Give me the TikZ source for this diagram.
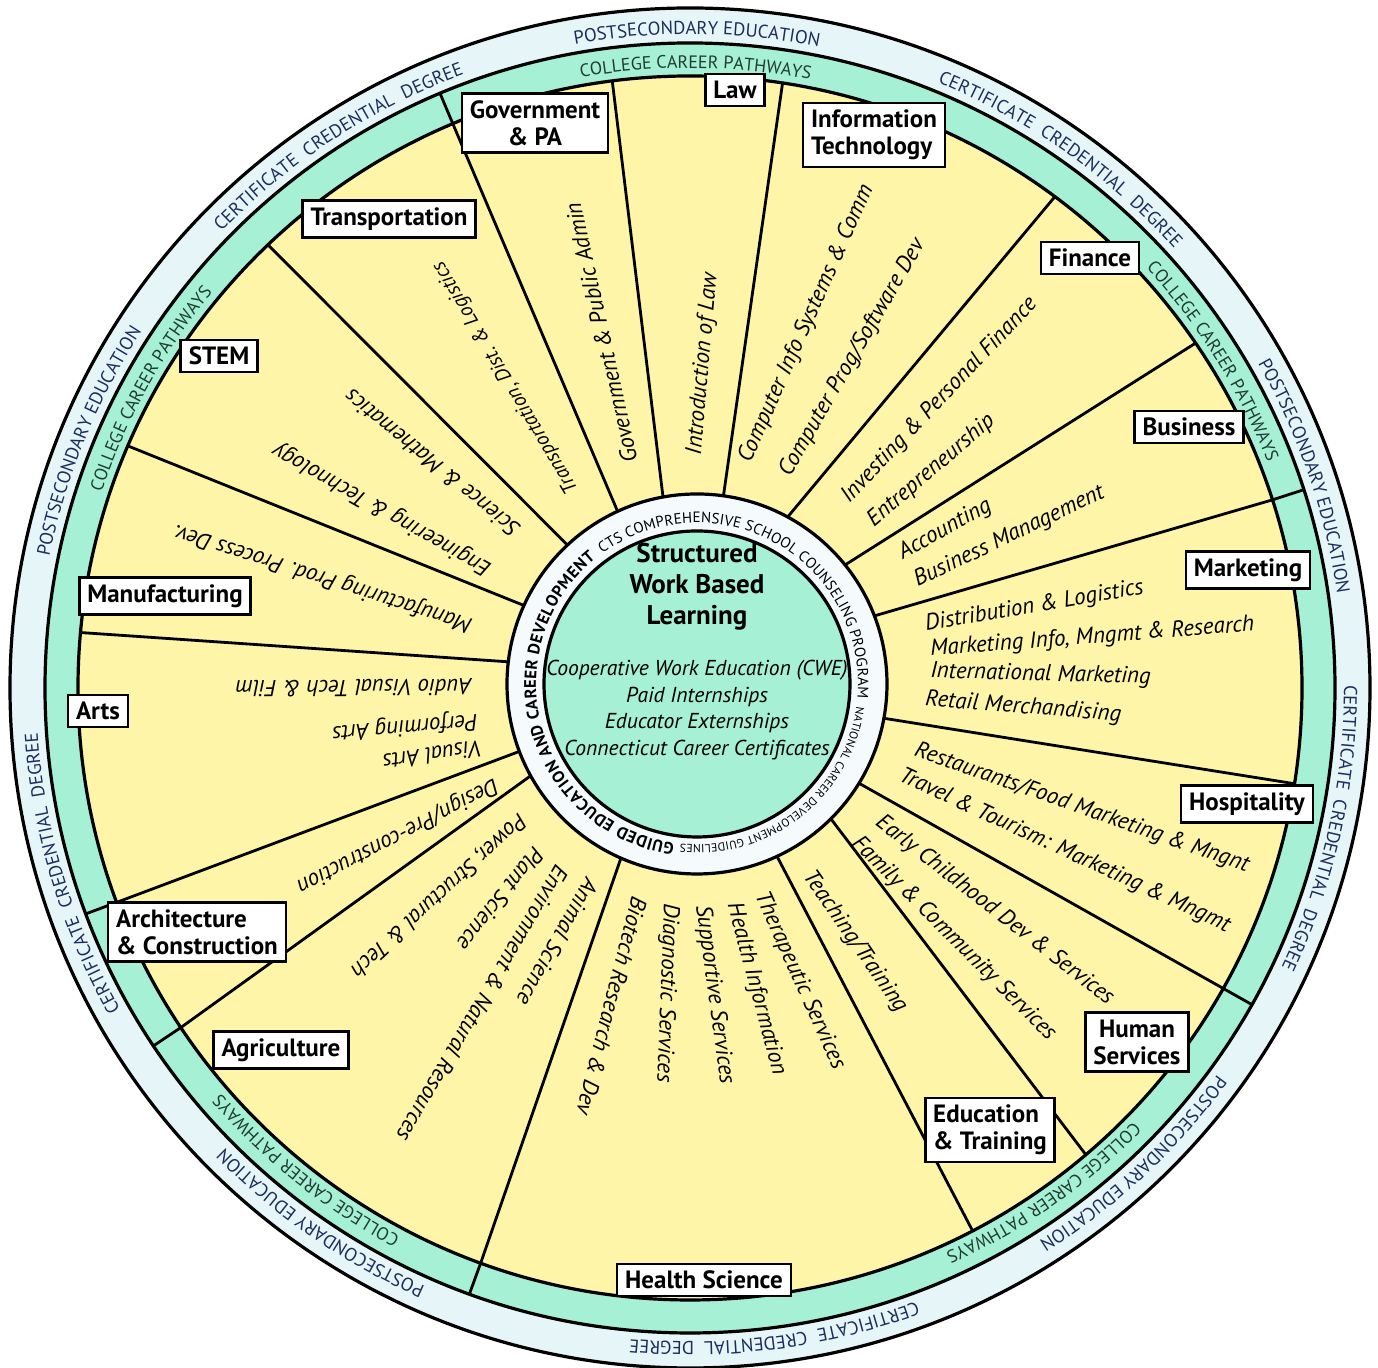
\documentclass[tikz,border=0pt]{standalone}
\usepackage{fontspec}
\setmainfont{PT Sans}
\usetikzlibrary{calc,decorations.text}

\definecolor{wheelyellow}{HTML}{FFF5A8}
\definecolor{wheelgreen}{HTML}{A6F0D6}
\definecolor{wheelpale}{HTML}{E6F6F8}
\definecolor{ringblue}{HTML}{1E2D5C}
\definecolor{ringgreen}{HTML}{1F3D30}

\newcommand{\outerfont}{\fontsize{9.3}{10}\selectfont\color{ringblue}}
\newcommand{\greenfont}{\fontsize{9}{10}\selectfont\color{ringgreen}}

% text on an arc: alignment, centre, start angle, end angle, radius, format, text
\newcommand{\ringtext}[7][center]{%
  \path[decorate, decoration={text along path, text align=#1, text={|#6|#7}}]
    ($(#2)+(#3:#5)$) arc[start angle=#3, end angle=#4, radius=#5];}

\begin{document}
\begin{tikzpicture}[x=0.5pt, y=0.5pt,
    tag/.style={draw, line width=1.3pt, fill=white, align=center, inner xsep=4pt, inner ysep=3.5pt,
      font=\bfseries\fontsize{12.5}{13.5}\selectfont},
    item/.style={anchor=west, inner sep=0pt, font=\itshape\fontsize{11.5}{13}\selectfont},
    divider/.style={line width=1.4pt},
    rimline/.style={line width=1.6pt}]

    \useasboundingbox (0,0) rectangle (1378,1368);
    \coordinate (rim) at (690,680);
    \coordinate (hub) at (697,684);

    \filldraw[rimline, fill=wheelpale] (rim) circle[radius=680];
    \filldraw[rimline, fill=wheelgreen] (rim) circle[radius=645];
    \filldraw[rimline, fill=wheelyellow] (rim) circle[radius=612];

    \foreach \i/\o in {133/133.6,114.7/112.8,100.3/97.3,82/81.3,61.5/53.4,38.8/34.3,21/17.9,-10.4/-9,
        -31.5/-29.4,-45.2/-49.7,-65.1/-62.5,-113.6/-110,-151.1/-146.3,-159.2/-159.5,173.3/174.8,155.6/156.7}{
        \draw[divider] ($(hub)+(\i:190)$) -- ($(rim)+(\o:612)$);
    }
    \foreach \o in {112.8,17.9,-29.4,-110,-146.3,-159.5}{
        \draw[divider] ($(rim)+(\o:612)$) -- ($(rim)+(\o:645)$);
    }

    \filldraw[rimline, fill=wheelpale!40!white] (hub) circle[radius=190];
    \filldraw[rimline, fill=wheelgreen] (hub) circle[radius=153];

    % outer ring
    \ringtext{rim}{129.4}{49.4}{654}{\outerfont}{POSTSECONDARY EDUCATION}
    \ringtext{rim}{95}{15}{654}{\outerfont}{CERTIFICATE~ CREDENTIAL~ DEGREE}
    \ringtext{rim}{59}{-21}{654}{\outerfont}{POSTSECONDARY EDUCATION}
    \ringtext{rim}{27.5}{-52.5}{654}{\outerfont}{CERTIFICATE~ CREDENTIAL~ DEGREE}
    \ringtext{rim}{-7}{-87}{654}{\outerfont}{POSTSECONDARY EDUCATION}
    \ringtext{rim}{-42.5}{-122.5}{654}{\outerfont}{CERTIFICATE~ CREDENTIAL~ DEGREE}
    \ringtext{rim}{275.4}{195.4}{654}{\outerfont}{POSTSECONDARY EDUCATION}
    \ringtext{rim}{236.7}{156.7}{654}{\outerfont}{CERTIFICATE~ CREDENTIAL~ DEGREE}
    \ringtext{rim}{197.7}{117.7}{654}{\outerfont}{POSTSECONDARY EDUCATION}
    \ringtext{rim}{163}{83}{654}{\outerfont}{CERTIFICATE~ CREDENTIAL~ DEGREE}

    % green ring
    \ringtext{rim}{129.5}{49.5}{620}{\greenfont}{COLLEGE CAREER PATHWAYS}
    \ringtext{rim}{72}{-8}{620}{\greenfont}{COLLEGE CAREER PATHWAYS}
    \ringtext{rim}{-15}{-95}{620}{\greenfont}{COLLEGE CAREER PATHWAYS}
    \ringtext{rim}{271.5}{191.5}{620}{\greenfont}{COLLEGE CAREER PATHWAYS}
    \ringtext{rim}{191}{111}{620}{\greenfont}{COLLEGE CAREER PATHWAYS}

    % hub ring
    \ringtext[fit to path]{hub}{262}{129}{161}{\bfseries\fontsize{8.3}{9}\selectfont}{GUIDED EDUCATION AND CAREER DEVELOPMENT}
    \ringtext[fit to path]{hub}{126}{-5}{161}{\fontsize{7.5}{8}\selectfont}{CTS COMPREHENSIVE SCHOOL COUNSELING PROGRAM}
    \ringtext[fit to path]{hub}{-8}{-96}{161}{\fontsize{5.8}{6}\selectfont}{NATIONAL CAREER DEVELOPMENT GUIDELINES}

    \node[font=\bfseries\fontsize{13.5}{15.5}\selectfont, align=center] (wbl) at (697,781)
        {Structured\\Work Based\\Learning};
    \node[font=\itshape\fontsize{10.8}{13.2}\selectfont, align=center] (wbllist) at (697,658)
        {Cooperative Work Education (CWE)\\Paid Internships\\Educator Externships\\Connecticut Career Certificates};

    \foreach \x/\y/\r/\txt [count=\n] in {
        745/906/66/Computer Info Systems \& Comm,
        785/893/60/{Computer Prog/Software Dev},
        695/913/85/Introduction of Law,
        630/905/102.5/Government \& Public Admin,
        574/876/120.7/{\fontsize{10.2}{12}\selectfont Transportation, Dist. \& Logistics},
        517/835/140.8/Science \& Mathematics,
        490/798/150.6/Engineering \& Technology,
        472/743/162.4/Manufacturing Prod. Process Dev.,
        472/681/180.5/Audio Visual Tech \& Film,
        478/648/185/Performing Arts,
        482/620/188.5/Visual Arts,
        497/585/207.7/{Design/Pre-construction},
        523/551/222.7/{Power, Structural \& Tech},
        540/518/231.3/Plant Science,
        563/501/239.5/Environment \& Natural Resources,
        593/488/240.4/Animal Science,
        640/471/255.5/Biotech Research \& Dev,
        670/465/267.8/Diagnostic Services,
        702/463/277.8/Supportive Services,
        733/465/285/Health Information,
        760/475/294.3/Therapeutic Services,
        807/495/304.8/{Teaching/Training},
        878/548/322.2/Early Childhood Dev \& Services,
        855/528/315/Family \& Community Services,
        915/618/340.7/{Restaurants/Food Marketing \& Mngnt},
        900/593/335.2/Travel \& Tourism: Marketing \& Mngmt,
        925/743/9.6/Distribution \& Logistics,
        930/718/4.4/{Marketing Info, Mngmt \& Research},
        930/696/-1.5/International Marketing,
        925/668/-4.5/Retail Merchandising,
        900/813/29.3/Accounting,
        915/786/25.6/Business Management,
        845/868/46.5/Investing \& Personal Finance,
        870/845/40.5/Entrepreneurship}{
        \node[item, rotate=\r] (item\n) at (\x,\y) {\txt};
    }

    \node[tag] (gov) at (535,1245) {Government\\\& PA};
    \node[tag] (law) at (735,1278) {Law};
    \node[tag, align=left] (infotech) at (874,1233) {Information\\Technology};
    \node[tag] (transport) at (389,1149) {Transportation};
    \node[tag] (stem) at (219,1012) {STEM};
    \node[tag] (finance) at (1090,1110) {Finance};
    \node[tag] (business) at (1189,941) {Business};
    \node[tag] (marketing) at (1248,798) {Marketing};
    \node[tag] (hospitality) at (1247,564) {Hospitality};
    \node[tag] (humanserv) at (1137,326) {Human\\Services};
    \node[tag, align=left] (education) at (990,238) {Education\\\& Training};
    \node[tag] (health) at (704,88) {Health Science};
    \node[tag] (agri) at (281,318) {Agriculture};
    \node[tag, align=left] (arch) at (197,436) {Architecture\\\& Construction};
    \node[tag] (arts) at (98,657) {Arts};
    \node[tag] (manuf) at (165,772) {Manufacturing};
\end{tikzpicture}
\end{document}
